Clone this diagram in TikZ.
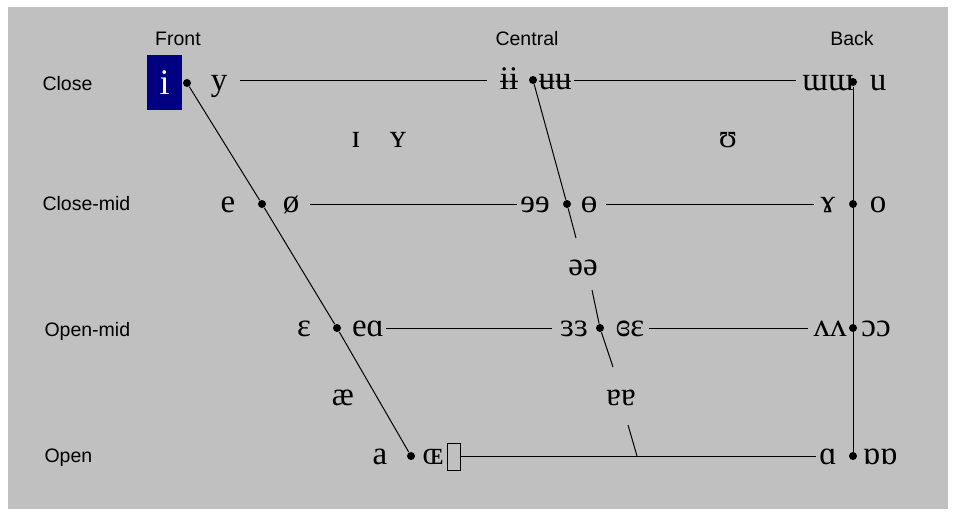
\documentclass[tikz,border=0pt]{standalone}
\usepackage{fontspec}
\setmainfont{Liberation Sans}
\newfontfamily\ipafont{Liberation Serif}
\definecolor{chartgray}{RGB}{192,192,192}
\definecolor{selnavy}{RGB}{0,0,128}

\begin{document}
\begin{tikzpicture}[
  x=1pt, y=-1pt, line width=1pt,
  lbl/.style={font=\fontsize{19.5}{19.5}\selectfont, inner sep=0pt, anchor=base west},
  hdr/.style={font=\fontsize{19.5}{19.5}\selectfont, inner sep=0pt, anchor=base},
  ipa/.style={font=\ipafont\fontsize{33}{33}\selectfont, inner sep=0pt, anchor=base},
  sel/.style={fill=selnavy, text=white, font=\ipafont\fontsize{36}{36}\selectfont,
    minimum width=35pt, minimum height=55pt, inner sep=0pt},
  notdef/.style={draw, minimum width=13pt, minimum height=27pt, inner sep=0pt},
  dot/.style={circle, fill, inner sep=0pt, minimum size=8pt}
]
  \useasboundingbox (0,0) rectangle (956,517);
  \fill[chartgray] (8,7) rectangle (948,509);

  % headings
  \node[hdr] (front)   at (178,45) {Front};
  \node[hdr] (central) at (527,45) {Central};
  \node[hdr] (back)    at (852,45) {Back};
  \node[lbl] (close)    at (42,90)  {Close};
  \node[lbl] (closemid) at (42,210) {Close-mid};
  \node[lbl] (openmid)  at (44,336) {Open-mid};
  \node[lbl] (open)     at (44,462) {Open};

  % vertices
  \node[dot] (cf)  at (187,83)  {};
  \node[dot] (cc)  at (533,80)  {};
  \node[dot] (cb)  at (853,82)  {};
  \node[dot] (cmf) at (262,204) {};
  \node[dot] (cmc) at (567,204) {};
  \node[dot] (cmb) at (853,204) {};
  \node[dot] (omf) at (337,328) {};
  \node[dot] (omc) at (600,328) {};
  \node[dot] (omb) at (853,328) {};
  \node[dot] (of)  at (411,456) {};
  \node[dot] (ob)  at (853,456) {};
  \coordinate (c1) at (576,238);
  \coordinate (c2) at (592,290);
  \coordinate (c3) at (613,367);
  \coordinate (c4) at (628,425);
  \coordinate (c5) at (637,456);

  % vowels
  \node[sel] (i)     at (164.5,82.5) {i};
  \node[ipa] (y)     at (219,90)  {y};
  \node[ipa] (ibar)  at (509,89)  {ɨɨ};
  \node[ipa] (ubar)  at (555,89)  {ʉʉ};
  \node[ipa] (uu)    at (828,90)  {ɯɯ};
  \node[ipa] (u)     at (878,90)  {u};
  \node[ipa] (ismall)  at (356,147) {ɪ};
  \node[ipa] (ysmall)  at (398,147) {ʏ};
  \node[ipa] (upsilon) at (728,147) {ʊ};
  \node[ipa] (e)     at (228,212) {e};
  \node[ipa] (oslash) at (291,212) {ø};
  \node[ipa] (reve)  at (535,212) {ɘɘ};
  \node[ipa] (obar)  at (589,212) {ɵ};
  \node[ipa] (schwa) at (583,275) {əə};
  \node[ipa] (rams)  at (828,212) {ɤ};
  \node[ipa] (o)     at (878,212) {o};
  \node[ipa] (eps)   at (304,336) {ɛ};
  \node[ipa] (oe)    at (368,336) {eɑ};
  \node[ipa] (reveps) at (574,336) {ɜɜ};
  \node[ipa] (cleps) at (630,336) {ɞɛ};
  \node[ipa] (turna) at (621,405) {ɐɐ};
  \node[ipa] (wedge) at (830,336) {ʌʌ};
  \node[ipa] (openo) at (876,336) {ɔɔ};
  \node[ipa] (ae)    at (343,405) {æ};
  \node[ipa] (a)     at (380,464) {a};
  \node[ipa] (OE)    at (433,464) {ɶ};
  \node[notdef] (box) at (453.5,456.5) {};
  \node[ipa] (alpha) at (828,464) {ɑ};
  \node[ipa] (turnalpha) at (880,464) {ɒɒ};

  % lines
  \draw ([xshift=12pt]y.east |- cc) -- ([xshift=-12pt]ibar.west |- cc);
  \draw ([xshift=2pt]ubar.east |- cc) -- ([xshift=-6pt]uu.west |- cc);
  \draw ([xshift=10pt]oslash.east |- cmf) -- ([xshift=-3pt]reve.west |- cmf);
  \draw ([xshift=8pt]obar.east |- cmc) -- ([xshift=-6pt]rams.west |- cmc);
  \draw ([xshift=2pt]oe.east |- omf) -- ([xshift=-8pt]reveps.west |- omf);
  \draw ([xshift=4pt]cleps.east |- omc) -- ([xshift=-5pt]wedge.west |- omc);
  \draw (box.east |- of) -- ([xshift=-3pt]alpha.west |- of);
  \draw (cf) -- (cmf) -- (omf) -- (of);
  \draw (cc) -- (cmc) -- (c1);
  \draw (c2) -- (omc) -- (c3);
  \draw (c4) -- (c5);
  \draw (cb) -- (ob);
\end{tikzpicture}
\end{document}
